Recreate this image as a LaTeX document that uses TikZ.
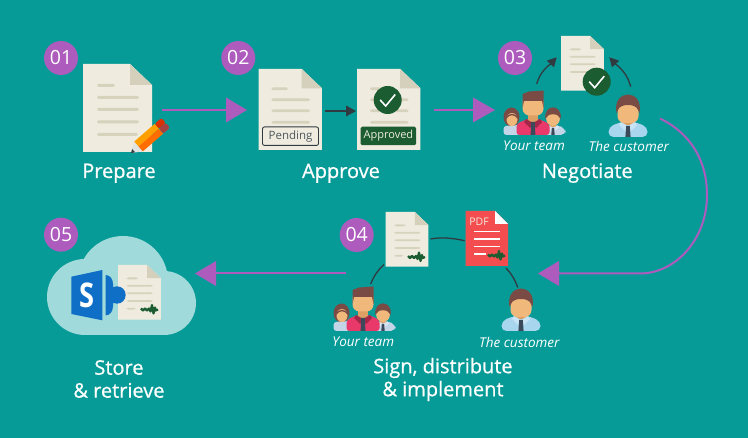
\documentclass[tikz,border=0pt]{standalone}
\usepackage{fontspec}
\setmainfont{Open Sans}
\newfontfamily\stepfont{Open Sans}[FakeBold=0.7]
\definecolor{tealbg}{HTML}{079B98}
\definecolor{purpleflow}{HTML}{AD5BBD}
\definecolor{darkflow}{HTML}{2F3B40}
\definecolor{paper}{HTML}{EFEBDF}
\definecolor{paperfold}{HTML}{D5D0BB}
\definecolor{paperline}{HTML}{D6D2BC}
\definecolor{okgreen}{HTML}{1B5C30}
\definecolor{cloudblue}{HTML}{A1DADA}
\definecolor{spblue}{HTML}{0F6FC6}
\definecolor{pdfred}{HTML}{F44D4F}
\definecolor{skin}{HTML}{F0B97B}
\definecolor{skindark}{HTML}{DDA064}
\definecolor{hair}{HTML}{7A4B45}
\definecolor{shirtblue}{HTML}{A9D6EF}
\definecolor{shirtpale}{HTML}{C5D5E8}
\definecolor{shirtpink}{HTML}{E8396A}
\definecolor{tiedark}{HTML}{3B4A5A}
\tikzset{
  stepnum/.style={circle,fill=purpleflow,text=white,inner sep=0pt,minimum size=34pt,font=\fontsize{19.5}{24}\selectfont},
  steptext/.style={text=white,align=center,inner sep=0pt,font=\fontsize{20}{23}\stepfont},
  whotext/.style={text=white,inner sep=0pt,font=\fontsize{13.5}{16}\selectfont\itshape},
  spot/.style={inner sep=0pt,outer sep=0pt},
  flow/.style={draw=purpleflow,line width=2pt},
  link/.style={draw=darkflow,line width=1.3pt},
  pics/doc/.style={code={
    \fill[paper] (0,0) -- (47,0) -- (69,21) -- (69,88) -- (0,88) -- cycle;
    \fill[paperfold] (47,0) -- (69,21) -- (47,21) -- cycle;
    \fill[paperline,rounded corners=1.5pt] (14,20) rectangle (32,23);
    \fill[paperline,rounded corners=1.5pt] (14,32) rectangle (56,35);
    \fill[paperline,rounded corners=1.5pt] (14,44) rectangle (56,47);
    \fill[paperline,rounded corners=1.5pt] (14,56.5) rectangle (56,59.5);
    \fill[paperline,rounded corners=1.5pt] (14,69) rectangle (#1,72);
  }},
  pics/signature/.style={code={
    \draw[okgreen,line width=2.2pt,line join=round] (0,-1) -- (2,1) -- (4,-1) -- (6,1) -- (8,-1)
      -- (9.5,2) -- (11,-4.5) -- (12.5,4) -- (14,-2) -- (15,1) -- (17,0);
  }},
  pics/checkmark/.style={code={
    \fill[okgreen] (0,0) circle (14);
    \draw[white,line width=1.6pt] (-7.5,0) -- (-2,6) -- (7.5,-5.5);
  }},
  pics/person/.style={code={
    \fill[#1,rounded corners=5pt] (-19.5,0) -- (-19.5,-10) -- (-7,-15) -- (7,-15) -- (19.5,-10) -- (19.5,0) -- cycle;
    \fill[skindark] (-5,-20) rectangle (5,-12);
    \fill[#1!65!white] (-7,-15) -- (0,-11) -- (-3,-6) -- (-9,-12) -- cycle;
    \fill[#1!65!white] (7,-15) -- (0,-11) -- (3,-6) -- (9,-12) -- cycle;
    \fill[tiedark] (-1.8,-11) -- (1.8,-11) -- (2.6,0) -- (-2.6,0) -- cycle;
    \fill[skin,rounded corners=7pt] (-10.5,-36) rectangle (10.5,-14);
    \fill[hair] (-11.5,-24) .. controls (-14,-37) and (-6,-42.5) .. (0,-42.5)
      .. controls (6,-42.5) and (14,-37) .. (11.5,-24) -- (10,-27)
      .. controls (8.5,-31) and (4,-32) .. (0,-32) .. controls (-4,-32) and (-8.5,-31) .. (-10,-27) -- cycle;
  }},
  pics/team/.style={code={
    \pic[scale=.65] at (20,0) {person=shirtpale};
    % woman on the left
    \fill[hair] (-21.5,-18) ellipse (8 and 9.5);
    \fill[shirtpale,rounded corners=3pt] (-29.5,0) -- (-29.5,-9) -- (-13,-10) -- (-13,0) -- cycle;
    \fill[skin] (-21,-15.5) ellipse (5.5 and 6.5);
    \fill[hair] (-27,-16) .. controls (-26,-23) and (-16,-23) .. (-15,-16) .. controls (-19,-21) and (-23,-21) .. cycle;
    % man in front
    \fill[shirtpink,rounded corners=3pt] (-16.5,0) -- (-16.5,-11) -- (-6,-16) -- (6,-16) -- (16.5,-11) -- (16.5,0) -- cycle;
    \fill[skindark] (-5,-22) rectangle (5,-13);
    \fill[shirtpink!70!black] (-7,-16) -- (0,-12) -- (-3,-7) -- (-9,-13) -- cycle;
    \fill[shirtpink!70!black] (7,-16) -- (0,-12) -- (3,-7) -- (9,-13) -- cycle;
    \fill[tiedark] (-1.8,-13) -- (1.8,-13) -- (2.4,0) -- (-2.4,0) -- cycle;
    \fill[skin,rounded corners=7pt] (-10.5,-40) rectangle (10.5,-19.5);
    \fill[hair] (-10.5,-27) -- (-10.5,-41) -- (-4,-43.5) -- (10.5,-44.5) -- (10.5,-27)
      -- (9,-34) -- (-9,-34) -- cycle;
  }},
  pics/pencil/.style={code={
    \fill[shirtpale!30!paper] (0,0) -- (10,-6.5) -- (10,6.5) -- cycle;
    \fill[darkflow] (0,0) -- (3.5,-2.2) -- (3.5,2.2) -- cycle;
    \fill[orange!75!yellow] (10,-6.5) rectangle (37,0);
    \fill[orange!85!red] (10,0) rectangle (37,6.5);
    \fill[red!55!orange!85!black,rounded corners=2pt] (37,-6.5) -- (46,-6.5) -- (46,0) -- (37,0) -- cycle;
    \fill[red!55!black!75,rounded corners=2pt] (37,0) -- (46,0) -- (46,6.5) -- (37,6.5) -- cycle;
  }},
}
\begin{document}
\begin{tikzpicture}[x=1pt,y=-1pt]
\useasboundingbox (0,0) rectangle (748,438);
\fill[tealbg] (0,0) rectangle (748,438);

% 01 prepare
\node[stepnum] (numa) at (61,58) {01};
\pic at (83,64) {doc=55};
\node[spot,minimum width=69pt,minimum height=88pt] (prepdoc) at (117.5,108) {};
\pic[rotate=41] at (131,153) {pencil};
\node[steptext,anchor=base] (prep) at (119,178) {Prepare};

% 02 approve
\node[stepnum] (numb) at (238.3,58) {02};
\pic[scale=.92] at (258.5,69) {doc=55};
\node[spot,minimum width=63.5pt,minimum height=81pt] (pend) at (290.2,109.5) {};
\node[draw=darkflow,fill=paper,rounded corners=2pt,line width=.9pt,inner sep=0pt,minimum width=56pt,minimum height=18.5pt,text=darkflow!85,font=\fontsize{11.5}{14}\selectfont] (pendtag) at (290.5,136.2) {Pending};
\pic[scale=.92] at (357,69) {doc=55};
\node[spot,minimum width=63.5pt,minimum height=81pt] (appr) at (388.7,109.5) {};
\pic at (387.7,100) {checkmark};
\node[fill=okgreen,rounded corners=1.5pt,inner sep=0pt,minimum width=55.5pt,minimum height=18.5pt,text=paper,font=\fontsize{11}{14}\selectfont] (apprtag) at (388.4,136) {Approved};
\node[steptext,anchor=base] (approve) at (341,178) {Approve};

% 03 negotiate
\node[stepnum] (numc) at (515,58) {03};
\pic[scale=.62] at (561,36) {doc=14};
\node[spot,minimum width=43pt,minimum height=55pt] (negdoc) at (582.5,63.5) {};
\pic at (596.7,81.7) {checkmark};
\pic at (533,135) {team};
\pic at (628,137) {person=shirtblue};
\node[spot,minimum width=50pt,minimum height=48pt] (negteam) at (533,111) {};
\node[spot,minimum width=39pt,minimum height=40pt] (negcust) at (628,117) {};
\node[whotext] (teama) at (534,146) {Your team};
\node[whotext] (custa) at (628.7,146) {The customer};
\node[steptext,anchor=base] (negotiate) at (587.3,178) {Negotiate};

% 04 sign
\node[stepnum] (numd) at (356.7,235) {04};
\pic[scale=.62] at (385.7,212) {doc=28};
\node[spot,minimum width=43pt,minimum height=55pt] (signdoc) at (407,239.5) {};
\pic at (408,257) {signature};
\fill[pdfred] (465.7,211) -- (495,211) -- (508,224) -- (508,266) -- (465.7,266) -- cycle;
\fill[white] (495,211) -- (508,224) -- (495,224) -- cycle;
\node[spot,text=paper,font=\fontsize{10.5}{13}\selectfont] (pdftag) at (479,221.7) {PDF};
\fill[white] (474,230.9) rectangle (500,232.5);
\fill[white] (474,238.2) rectangle (500,239.8);
\fill[white] (474,245.9) rectangle (500,247.5);
\fill[white] (474,253.2) rectangle (486,254.8);
\pic at (488,255.5) {signature};
\node[spot,minimum width=42.3pt,minimum height=55pt] (pdfdoc) at (486.8,238.5) {};
\pic at (363,331) {team};
\pic at (521,331) {person=shirtblue};
\node[spot,minimum width=50pt,minimum height=46pt] (signteam) at (363,308) {};
\node[spot,minimum width=39pt,minimum height=44pt] (signcust) at (521,309) {};
\node[whotext] (teamb) at (363.3,342) {Your team};
\node[whotext] (custb) at (519.3,342) {The customer};
\node[steptext] (sign) at (443,379.5) {Sign, distribute\\\& implement};

% 05 store
\fill[cloudblue] (85,297) circle (38);
\fill[cloudblue] (123,281) circle (45);
\fill[cloudblue] (164,303) circle (32);
\fill[cloudblue] (85,300) rectangle (164,335);
\node[stepnum] (nume) at (61,234.7) {05};
\pic[scale=.62] at (118,265) {doc=28};
\node[spot,minimum width=43pt,minimum height=54pt] (clouddoc) at (139.5,292) {};
\pic at (141,309.5) {signature};
\fill[spblue] (105.5,275) .. controls (110,275) and (113,279) .. (113,284) -- (113,306)
  .. controls (113,311) and (110,315.5) .. (105.5,315.5) -- cycle;
\fill[spblue] (117,295) circle (8.7);
\fill[spblue] (71.3,276.7) -- (102.3,270) -- (102.3,320.3) -- (71.3,314) -- cycle;
\node[spot,text=white,xscale=.8,transform shape,font=\fontsize{34}{40}\selectfont\bfseries] (sp) at (86.7,295) {S};
\node[steptext] (store) at (119,379) {Store\\\& retrieve};

% free ends of the connectors
\coordinate (tipa) at (247,110);
\coordinate (tipb) at (356,111);
\coordinate (tipc) at (495,110);
\coordinate (tipd) at (538,273.5);
\coordinate (tipe) at (195,273.5);
\coordinate (tipf) at (556.7,57.3);
\coordinate (tipg) at (609.3,57.3);
\coordinate (curvestart) at (660,118.5);
\coordinate (signout) at (346,273.5);

\draw[flow,shorten >=5pt] ([xshift=10pt,yshift=-2pt]prepdoc.east) -- (tipa);
\fill[purpleflow] (tipa) -- ++(-21,-12.5) -- ++(0,25) -- cycle;
\draw[link,shorten >=3pt] ([xshift=3pt,yshift=-1.5pt]pend.east) -- (tipb);
\fill[darkflow] (tipb) -- ++(-10,-5.5) -- ++(0,11) -- cycle;
\draw[flow,shorten >=5pt] ([xshift=13.5pt,yshift=-.5pt]appr.east) -- (tipc);
\fill[purpleflow] (tipc) -- ++(-22,-12.5) -- ++(0,25) -- cycle;

\draw[link] ([xshift=3.7pt,yshift=3pt]negteam.north) .. controls +(2.5,-9) and (544,69) .. (550.5,64);
\fill[darkflow] (tipf) -- (546.7,60.7) -- (554,67.3) -- cycle;
\draw[link] ([xshift=2.7pt,yshift=10.3pt]negcust.north) .. controls +(-2.7,-10.7) and (622,69) .. (615.5,64);
\fill[darkflow] (tipg) -- (619.3,60.7) -- (612,67.3) -- cycle;

\draw[flow,shorten >=5pt] (curvestart) .. controls (690,133) and (707,160) .. (707,195)
  .. controls (707,240) and (675,273.5) .. (640,273.5) -- (tipd);
\fill[purpleflow] (tipd) -- ++(21,-12.5) -- ++(0,25) -- cycle;

\draw[link] ([xshift=7.7pt,yshift=1pt]signteam.north) .. controls +(3,-8) and (378,270) .. ([xshift=-1.5pt,yshift=2.5pt]signdoc.south west);
\draw[link] ([xshift=2pt,yshift=.5pt]signdoc.east) .. controls (442,237) and (452,238) .. ([xshift=-1pt,yshift=-2.2pt]pdfdoc.west);
\draw[link] ([xshift=19pt,yshift=-2pt]pdfdoc.south) .. controls (510,272) and (515,279) .. ([xshift=-3.3pt,yshift=-.5pt]signcust.north);

\draw[flow,shorten >=5pt] (signout) -- (tipe);
\fill[purpleflow] (tipe) -- ++(21,-12.5) -- ++(0,25) -- cycle;
\end{tikzpicture}
\end{document}
